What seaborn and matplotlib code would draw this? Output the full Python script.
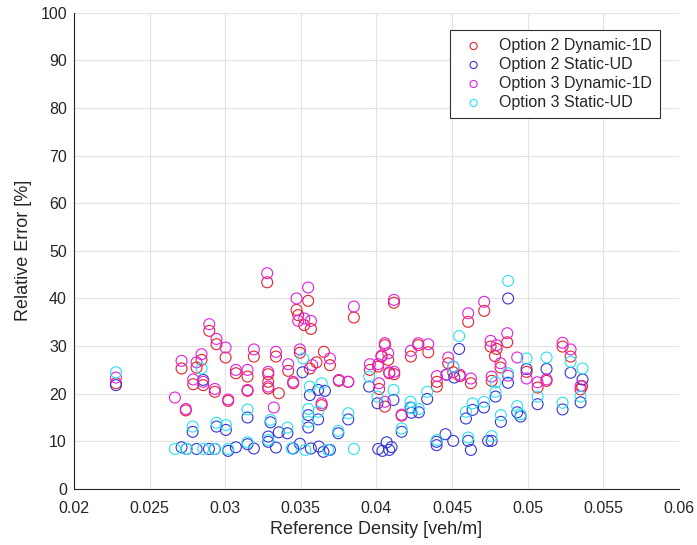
import matplotlib
matplotlib.use("Agg")
import matplotlib.pyplot as plt
import seaborn as sns
import numpy as np

# ---- data ----
labels = ["Option 2 Dynamic-1D", "Option 2 Static-UD", "Option 3 Dynamic-1D", "Option 3 Static-UD"]

o2_dyn_x = [0.02278, 0.0274, 0.02712, 0.02789, 0.02811, 0.02844, 0.02855, 0.02895, 0.02932, 0.02943,
            0.03003, 0.0302, 0.03071, 0.03148, 0.03148, 0.0319, 0.03278, 0.03285, 0.03285, 0.03285,
            0.03336, 0.03355, 0.03417, 0.0345, 0.03472, 0.03483, 0.03494, 0.03523, 0.03549, 0.0356,
            0.03567, 0.03604, 0.03638, 0.03653, 0.03693, 0.03752, 0.03814, 0.03851, 0.03957, 0.04012,
            0.04018, 0.04034, 0.04056, 0.04056, 0.04078, 0.04085, 0.04116, 0.04118, 0.04167, 0.04228,
            0.04277, 0.04343, 0.0440, 0.0440, 0.04475, 0.04508, 0.04552, 0.04607, 0.04625, 0.04713,
            0.04755, 0.04762, 0.04784, 0.04795, 0.04821, 0.04865, 0.04993, 0.05066, 0.05125, 0.05231,
            0.05284, 0.0535, 0.0536]
o2_dyn_y = [22.2, 16.5, 25.3, 22.0, 25.5, 27.1, 21.8, 33.2, 20.4, 30.4,
            27.6, 18.5, 24.3, 23.6, 20.6, 27.8, 43.4, 24.1, 22.5, 21.1,
            27.8, 20.1, 24.8, 22.2, 37.6, 36.5, 28.6, 34.4, 39.5, 25.3,
            33.6, 26.6, 17.6, 28.8, 26.0, 22.7, 22.5, 36.0, 25.0, 25.7,
            21.0, 27.8, 30.2, 17.3, 27.1, 24.3, 39.1, 24.1, 15.4, 27.8,
            30.2, 28.7, 22.5, 21.5, 26.4, 24.5, 23.7, 35.1, 22.2, 37.4,
            29.9, 22.7, 27.9, 29.4, 25.5, 30.8, 24.6, 21.3, 22.7, 29.9,
            27.8, 20.9, 21.6]

o3_dyn_x = [0.02278, 0.02668, 0.0274, 0.02712, 0.02789, 0.02811, 0.02844, 0.02855, 0.02895, 0.02932,
            0.02943, 0.03003, 0.0302, 0.03071, 0.03148, 0.03148, 0.0319, 0.03278, 0.03285, 0.03285,
            0.03322, 0.03336, 0.03417, 0.0345, 0.03472, 0.03483, 0.03494, 0.03523, 0.03549, 0.03567,
            0.03576, 0.03638, 0.03693, 0.03752, 0.03814, 0.03851, 0.03957, 0.04012, 0.04018, 0.04034,
            0.04056, 0.04056, 0.04078, 0.04085, 0.04116, 0.04118, 0.04167, 0.04228, 0.04277, 0.04343,
            0.0440, 0.04464, 0.04475, 0.04508, 0.04552, 0.04607, 0.04625, 0.04713, 0.04755, 0.04762,
            0.04795, 0.04821, 0.04865, 0.0487, 0.04931, 0.04993, 0.05066, 0.05125, 0.05231, 0.05284,
            0.0535]
o3_dyn_y = [23.4, 19.2, 16.8, 26.9, 23.0, 26.6, 28.3, 22.5, 34.6, 21.0,
            31.5, 29.7, 18.8, 25.0, 25.0, 20.8, 29.3, 45.3, 24.6, 21.5,
            17.1, 28.8, 26.2, 22.5, 40.0, 35.3, 29.3, 35.8, 42.3, 35.3,
            26.0, 18.0, 27.4, 22.9, 22.5, 38.3, 26.2, 26.2, 22.2, 28.0,
            30.6, 18.3, 28.5, 24.5, 39.7, 24.6, 15.6, 29.0, 30.6, 30.4,
            23.7, 24.0, 27.6, 25.7, 24.0, 36.9, 23.2, 39.3, 31.1, 23.6,
            30.2, 26.4, 32.7, 23.8, 27.6, 23.2, 22.4, 23.0, 30.7, 29.3,
            21.6]

o2_sta_x = [0.02278, 0.02712, 0.02745, 0.02785, 0.02811, 0.02855, 0.02893, 0.02932, 0.02943, 0.03005,
            0.0302, 0.03071, 0.03148, 0.03148, 0.0319, 0.03285, 0.03285, 0.033, 0.03336, 0.03355,
            0.03412, 0.0345, 0.03494, 0.03512, 0.0355, 0.0355, 0.0356, 0.03567, 0.03615, 0.03615,
            0.0366, 0.0362, 0.0365, 0.03693, 0.03748, 0.03814, 0.03952, 0.04007, 0.04012, 0.0404,
            0.04068, 0.04085, 0.04113, 0.0410, 0.04167, 0.04226, 0.04232, 0.04281, 0.04336, 0.04398,
            0.04398, 0.04457, 0.04464, 0.04508, 0.04515, 0.04547, 0.04592, 0.04607, 0.04625, 0.04636,
            0.04711, 0.04739, 0.04762, 0.04788, 0.04823, 0.0487, 0.04871, 0.04931, 0.04953, 0.04993,
            0.05066, 0.05125, 0.05231, 0.05284, 0.0535, 0.05363]
o2_sta_y = [21.8, 8.75, 8.4, 12.0, 8.4, 22.9, 8.4, 8.4, 13.1, 12.4,
            8.0, 8.75, 15.0, 9.4, 8.5, 11.0, 9.9, 14.0, 8.7, 11.9,
            11.7, 8.5, 9.5, 24.5, 15.5, 12.9, 19.7, 8.5, 20.8, 14.6,
            20.6, 8.9, 7.8, 8.2, 11.7, 14.6, 21.5, 18.0, 8.4, 8.0,
            9.8, 8.2, 18.7, 8.8, 12.0, 17.1, 16.0, 16.1, 18.9, 9.9,
            9.2, 11.5, 24.0, 10.1, 23.4, 29.4, 14.8, 10.1, 8.2, 16.6,
            17.1, 10.1, 10.1, 19.4, 14.1, 22.3, 40.0, 16.1, 15.2, 25.2,
            17.8, 25.2, 16.7, 24.4, 18.2, 23.0]

o3_sta_x = [0.02278, 0.02668, 0.02745, 0.02785, 0.02844, 0.02855, 0.0293, 0.02943, 0.03005, 0.0302,
            0.03148, 0.03148, 0.033, 0.03285, 0.03412, 0.0344, 0.03516, 0.0355, 0.0355, 0.0356,
            0.03615, 0.03638, 0.0353, 0.0368, 0.03748, 0.03814, 0.03851, 0.03952, 0.04007, 0.04113,
            0.04167, 0.04226, 0.04232, 0.04281, 0.04336, 0.0440, 0.04508, 0.04547, 0.04592, 0.04607,
            0.04636, 0.04711, 0.04762, 0.04788, 0.04788, 0.04823, 0.0487, 0.04871, 0.04931, 0.04953,
            0.04993, 0.05066, 0.05125, 0.05231, 0.05284, 0.0535, 0.05363]
o3_sta_y = [24.5, 8.4, 8.4, 13.1, 25.3, 8.4, 8.4, 13.9, 13.4, 8.4,
            16.7, 9.8, 14.5, 10.3, 12.9, 8.5, 27.4, 16.8, 14.1, 21.5,
            16.2, 22.2, 8.2, 8.2, 12.2, 15.9, 8.4, 23.6, 19.4, 20.8,
            12.7, 18.3, 17.0, 16.8, 20.4, 10.3, 25.7, 32.1, 16.2, 10.8,
            18.0, 18.3, 11.1, 22.4, 20.4, 15.5, 24.3, 43.7, 17.4, 15.7,
            27.4, 19.4, 27.6, 18.1, 26.7, 19.4, 25.3]

x_ticks = [0.02, 0.025, 0.03, 0.035, 0.04, 0.045, 0.05, 0.055, 0.06]
x_ticklabels = ["0.02", "0.025", "0.03", "0.035", "0.04", "0.045", "0.05", "0.055", "0.06"]
y_ticks = [0, 10, 20, 30, 40, 50, 60, 70, 80, 90, 100]

# ---- style ----
sns.set_theme(style="white")
plt.rcParams["font.family"] = ["Liberation Sans", "DejaVu Sans"]

fig = plt.figure(figsize=(6.97, 5.45), dpi=100)
ax = fig.add_axes([0.106, 0.1028, 0.868, 0.8739])

series = [
    (o2_dyn_x, o2_dyn_y, labels[0], "#e8222a"),
    (o2_sta_x, o2_sta_y, labels[1], "#3535d8"),
    (o3_dyn_x, o3_dyn_y, labels[2], "#e020e0"),
    (o3_sta_x, o3_sta_y, labels[3], "#28e2f2"),
]
for xs, ys, lab, col in series:
    sns.scatterplot(x=xs, y=ys, ax=ax, marker="o", s=62, facecolor="none",
                    edgecolor=col, linewidth=0.8, label=lab, zorder=3)

ax.set_xlim(0.02, 0.06)
ax.set_ylim(0, 100)
ax.set_xticks(x_ticks)
ax.set_xticklabels(x_ticklabels)
ax.set_yticks(y_ticks)
ax.grid(True, color="#e3e3e3", linewidth=0.8)
ax.set_axisbelow(True)

for side in ["top", "right"]:
    ax.spines[side].set_visible(False)
for side in ["left", "bottom"]:
    ax.spines[side].set_color("#262626")
    ax.spines[side].set_linewidth(0.8)

ax.tick_params(axis="both", direction="in", length=5, width=0.8, colors="#262626",
               labelsize=11.5, labelcolor="#262626")
ax.tick_params(axis="x", pad=9)
ax.tick_params(axis="y", pad=5)
ax.set_xlabel("Reference Density [veh/m]", fontsize=13, color="#262626", labelpad=3)
ax.set_ylabel("Relative Error [%]", fontsize=13, color="#262626", labelpad=6)

leg = ax.legend(loc="upper right", bbox_to_anchor=(0.982, 0.98), frameon=True,
                fancybox=False, framealpha=1, edgecolor="#333333", fontsize=11.5,
                markerscale=0.65, handletextpad=0.6, borderpad=0.5, labelspacing=0.25,
                handlelength=2.0)
leg.get_frame().set_linewidth(0.8)

fig.savefig("out.png", dpi=100)
